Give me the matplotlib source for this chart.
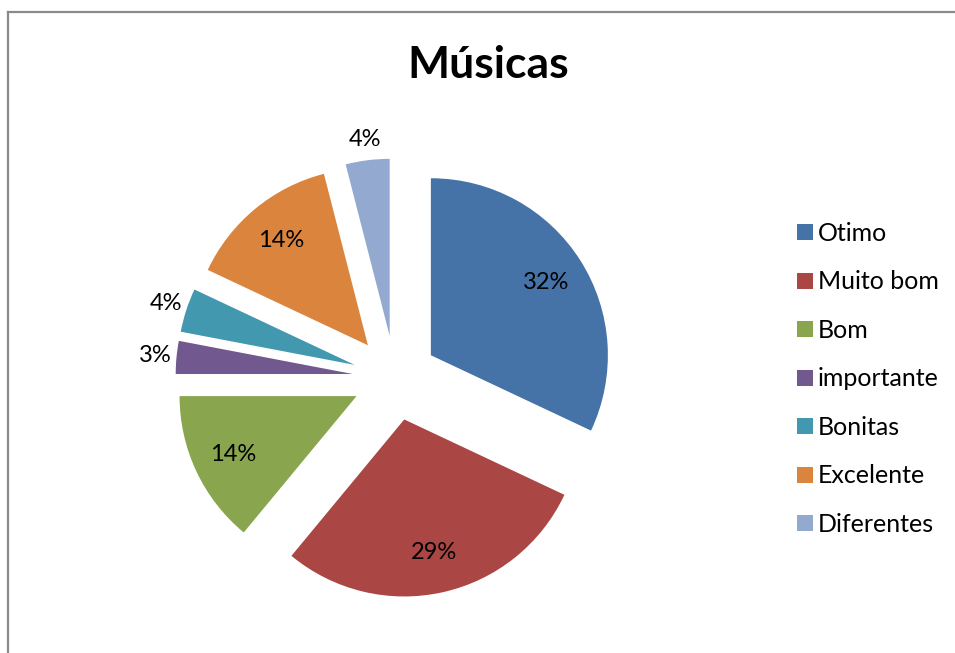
import matplotlib
matplotlib.use("Agg")
import matplotlib.pyplot as plt
import numpy as np
from matplotlib.lines import Line2D

plt.rcParams['font.family'] = ['Lato', 'DejaVu Sans']

categories = ["Otimo", "Muito bom", "Bom", "importante", "Bonitas", "Excelente", "Diferentes"]
values = [32, 29, 14, 3, 4, 14, 4]
colors = ["#4572A7", "#AA4643", "#89A54E", "#71588F", "#4198AF", "#DB843D", "#93A9CF"]
title = "Músicas"

W, H = 955, 653
fig = plt.figure(figsize=(W / 100, H / 100), dpi=100)

# chart frame (top and left edges visible)
fig.add_artist(Line2D([7.5 / W, 7.5 / W], [0, 1 - 11.5 / H], color="#8a8a8a", lw=1.6,
                      transform=fig.transFigure))
fig.add_artist(Line2D([7.5 / W, 1], [1 - 11.5 / H, 1 - 11.5 / H], color="#8a8a8a", lw=1.6,
                      transform=fig.transFigure))

# pie axes: radius 177 px, centre at (395, 275) px from bottom-left
R = 177.0
cx, cy = 395.0, 275.0
ax = fig.add_axes([0, 0, 790 / W, 550 / H])
explode = [0.24] * len(values)
wedges, _ = ax.pie(values, colors=colors, explode=explode, startangle=90,
                   counterclock=False, radius=1.0,
                   wedgeprops=dict(linewidth=0))
ax.set_xlim(-cx / R, cx / R)
ax.set_ylim(-cy / R, cy / R)
ax.set_aspect("auto")
ax.axis("off")

total = sum(values)
for w, v in zip(wedges, values):
    mid = np.deg2rad((w.theta1 + w.theta2) / 2)
    frac = v / total
    d = 0.77 if frac > 0.1 else 1.12
    r = 0.24 + d
    ax.text(r * np.cos(mid), r * np.sin(mid), f"{round(100 * frac)}%",
            ha="center", va="center", fontsize=17, color="#000000")

fig.text(488 / W, 1 - 65 / H, title, ha="center", va="center",
         fontsize=32, fontweight="bold")

leg = fig.legend(wedges, categories, loc="upper left",
                 bbox_to_anchor=(797 / W, 1 - 222 / H), frameon=False,
                 fontsize=18, handlelength=0.62, handleheight=0.62,
                 handletextpad=0.22, labelspacing=1.02, borderpad=0, borderaxespad=0)

fig.savefig("out.png", dpi=100)
